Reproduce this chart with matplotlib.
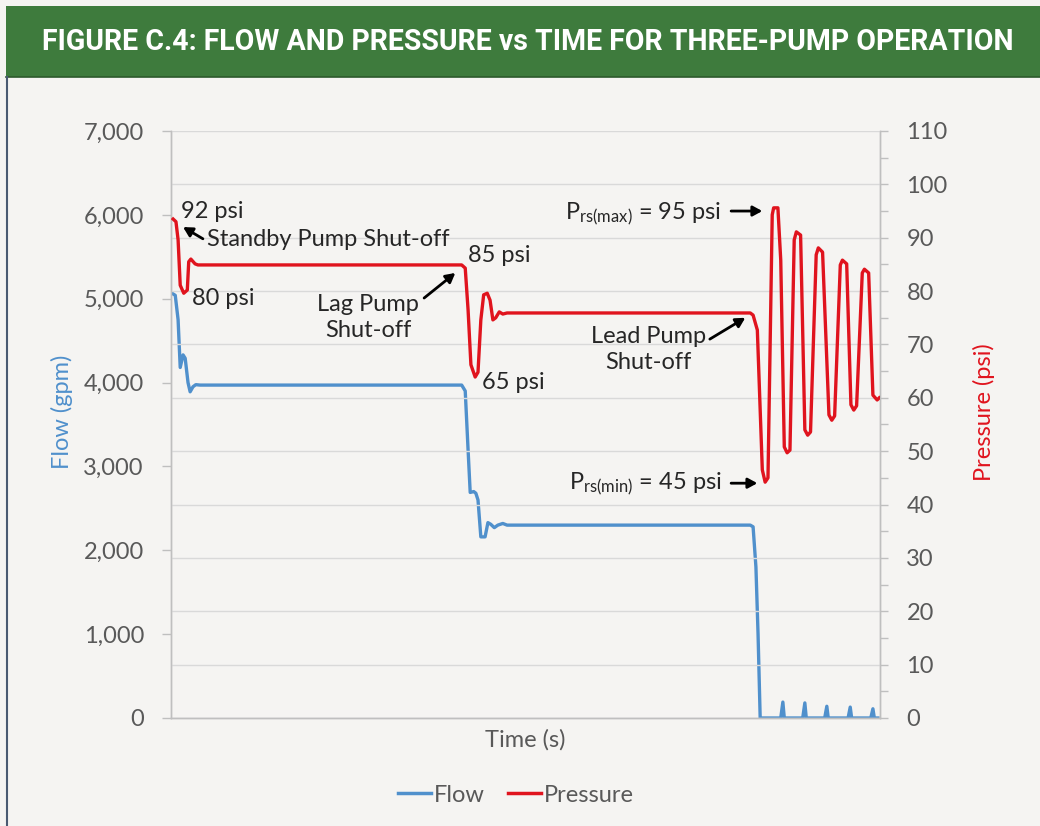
import matplotlib
matplotlib.use('Agg')
import matplotlib.pyplot as plt
from matplotlib.patches import Rectangle
from matplotlib.lines import Line2D

plt.rcParams['font.family'] = ['Lato', 'DejaVu Sans']

# Pressure trace (time in s, pressure in psi)
p_time = [0.3, 0.7, 1.0, 1.3, 1.8, 2.3, 2.5, 2.8, 3.4, 3.8,
          41.0, 41.5, 41.9, 42.3, 42.9, 43.3, 43.7, 44.1, 44.6, 45.0, 45.4, 45.8, 46.3, 46.8, 47.4,
          81.7, 82.1, 82.7, 83.4, 83.8, 84.2, 84.8, 85.0, 85.6, 86.0, 86.5, 86.9, 87.3,
          87.9, 88.2, 88.8, 89.4, 89.8, 90.2, 91.0, 91.3, 91.9, 92.8, 93.2, 93.6,
          94.4, 94.7, 95.3, 95.9, 96.3, 96.7, 97.5, 97.8, 98.4, 99.0, 99.6, 99.9]
pressure = [93.5, 93.0, 89.6, 81.1, 79.6, 80.2, 85.5, 86.0, 85.1, 84.9,
            84.9, 84.3, 76.5, 66.2, 63.9, 64.8, 74.6, 79.3, 79.6, 78.3, 74.6, 75.0, 76.1, 75.7, 75.9,
            75.9, 75.5, 72.7, 46.5, 44.2, 45.0, 94.3, 95.6, 95.6, 85.8, 50.8, 49.7, 50.2,
            89.6, 91.1, 90.5, 54.0, 53.0, 53.6, 86.8, 88.1, 87.3, 56.8, 55.8, 56.6,
            84.9, 85.8, 85.1, 58.7, 57.7, 58.5, 83.4, 84.1, 83.4, 60.5, 59.6, 60.0]

# Flow trace (time in s, flow in gpm)
f_time = [0.1, 0.6, 1.0, 1.3, 1.7, 2.0, 2.4, 2.7, 3.1, 3.5, 4.1,
          41.0, 41.5, 41.9, 42.2, 42.7, 43.0, 43.3, 43.7, 44.3, 44.7, 45.1, 45.6, 46.1, 46.8, 47.4,
          81.7, 82.1, 82.5, 82.8, 83.1,
          86.0, 86.3, 86.5, 89.1, 89.4, 89.6, 92.2, 92.5, 92.7,
          95.5, 95.8, 96.0, 98.7, 99.0, 99.2, 99.7]
flow = [5068, 5040, 4750, 4180, 4330, 4290, 4000, 3890, 3950, 3975, 3970,
        3970, 3900, 3200, 2690, 2700, 2680, 2600, 2160, 2160, 2330, 2310, 2270, 2300, 2320, 2300,
        2300, 2280, 1800, 1000, 0,
        0, 190, 0, 0, 180, 0, 0, 140, 0,
        0, 130, 0, 0, 110, 0, 0]

flow_ticks = [0, 1000, 2000, 3000, 4000, 5000, 6000, 7000]
pressure_ticks = [0, 10, 20, 30, 40, 50, 60, 70, 80, 90, 100, 110]

BG = '#F5F4F2'
GRID = '#D9D9D9'
TXT = '#595959'
BLUE = '#5090CC'
RED = '#E0141E'
DARK = '#262626'
FS = 17

fig = plt.figure(figsize=(10.4, 8.26), dpi=100, facecolor=BG)

# header banner
fig.patches.append(Rectangle((6 / 1040, 1 - 77 / 826), 1, 71 / 826, transform=fig.transFigure,
                             facecolor='#3E7B3D', edgecolor='none', zorder=0))
fig.lines.append(Line2D([6 / 1040, 1], [1 - 77 / 826, 1 - 77 / 826], transform=fig.transFigure,
                        color='#2C5A2C', lw=1.2))
fig.lines.append(Line2D([7 / 1040, 7 / 1040], [0, 1 - 77 / 826], transform=fig.transFigure,
                        color='#4A5A72', lw=1.5))
title = fig.text(528 / 1040, 1 - 42 / 826,
                 'FIGURE C.4: FLOW AND PRESSURE vs TIME FOR THREE-PUMP OPERATION',
                 color='white', fontsize=20, fontweight='bold', ha='center', va='center',
                 family=['Roboto', 'DejaVu Sans'])
# shrink the title so it spans the banner like the original
renderer = fig.canvas.get_renderer()
w = title.get_window_extent(renderer).width
title.set_fontsize(20 * 972 / w)

ax = fig.add_axes([171 / 1040, 1 - 718 / 826, 709 / 1040, 587 / 826])
ax.set_facecolor(BG)
ax2 = ax.twinx()

ax.set_xlim(0, 100)
ax.set_ylim(0, 7000)
ax2.set_ylim(0, 110)

# gridlines at pressure positions
ax2.set_yticks(pressure_ticks)
ax2.set_yticks(range(5, 110, 10), minor=True)
ax2.yaxis.grid(True, which='major', color=GRID, lw=1)
ax2.set_axisbelow(True)

ax.set_yticks(flow_ticks)
ax.set_yticklabels([f'{v:,}' for v in flow_ticks])
ax.tick_params(axis='y', direction='out', length=6.5, width=1, color='#BFBFBF',
               labelsize=FS, labelcolor=TXT, pad=13)
ax2.tick_params(axis='y', which='both', direction='out', length=6, width=1, color='#BFBFBF',
                labelsize=FS, labelcolor=TXT, pad=13)
ax.set_xticks([])

for a in (ax, ax2):
    a.spines['top'].set_visible(False)
    for s in ('left', 'right', 'bottom'):
        a.spines[s].set_color('#BFBFBF')
        a.spines[s].set_linewidth(1)

ax.plot(f_time, flow, color=BLUE, lw=2.4, solid_joinstyle='round', zorder=3)
ax2.plot(p_time, pressure, color=RED, lw=2.4, solid_joinstyle='round', zorder=3)

ax.set_xlabel('Time (s)', fontsize=FS, color=TXT, labelpad=8)
fig.text(62 / 1040, 1 - 412 / 826, 'Flow (gpm)', rotation=90, fontsize=FS, color=BLUE,
         ha='center', va='center')
fig.text(984 / 1040, 1 - 412 / 826, 'Pressure (psi)', rotation=90, fontsize=FS, color=RED,
         ha='center', va='center')

# annotations
tkw = dict(fontsize=FS, color=DARK, va='center')
ax2.text(1.4, 95.0, '92 psi', ha='left', **tkw)
ax2.text(5.1, 89.6, 'Standby Pump Shut-off', ha='left', **tkw)
ax2.text(3.0, 78.7, '80 psi', ha='left', **tkw)
ax2.text(27.8, 75.0, 'Lag Pump\nShut-off', ha='center', linespacing=1.3, **tkw)
ax2.text(41.9, 86.6, '85 psi', ha='left', **tkw)
ax2.text(43.9, 62.8, '65 psi', ha='left', **tkw)
ax2.text(67.3, 69.0, 'Lead Pump\nShut-off', ha='center', linespacing=1.3, **tkw)
ax2.text(55.6, 94.6, r'$\mathregular{P_{rs(max)}}$ = 95 psi', ha='left', **tkw)
ax2.text(56.2, 44.0, r'$\mathregular{P_{rs(min)}}$ = 45 psi', ha='left', **tkw)

akw = dict(arrowstyle='-|>,head_length=0.55,head_width=0.3', color='black', lw=2,
           shrinkA=0, shrinkB=0)
arrows = [((4.5, 89.8), (1.7, 92.0)),
          ((35.7, 78.7), (40.1, 83.4)),
          ((76.0, 71.0), (81.0, 75.0)),
          ((79.0, 95.0), (83.4, 95.0)),
          ((79.0, 44.0), (82.7, 44.0))]
for tail, head in arrows:
    ax2.annotate('', xy=head, xytext=tail, arrowprops=akw)

handles = [Line2D([], [], color=BLUE, lw=2.5), Line2D([], [], color=RED, lw=2.5)]
fig.legend(handles, ['Flow', 'Pressure'], loc='center', bbox_to_anchor=(516 / 1040, 1 - 795 / 826),
           ncol=2, frameon=False, fontsize=FS, labelcolor=TXT, handlelength=1.4,
           handletextpad=0.1, columnspacing=1.0)

fig.savefig('out.png', dpi=100, facecolor=BG)
